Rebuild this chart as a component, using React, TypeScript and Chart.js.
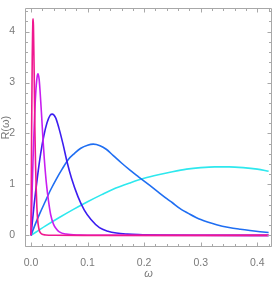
import React, { useEffect, useRef } from "react";
import { Chart, registerables } from "chart.js";

Chart.register(...registerables);

// ---- data ----
const pinkX = [0, 0.0006, 0.0011, 0.0017, 0.0022, 0.0028, 0.0033, 0.0037, 0.0043, 0.0048, 0.0056, 0.0063, 0.007, 0.0081, 0.0093, 0.0104, 0.0118, 0.0133, 0.0148, 0.0185, 0.026, 0.04, 0.1, 0.42];
const pinkY = [0, 1.1, 2.04, 2.85, 3.49, 3.95, 4.21, 4.25, 4.12, 3.78, 3.19, 2.55, 2.0, 1.36, 0.89, 0.55, 0.3, 0.17, 0.09, 0.03, 0.008, 0.001, 0, 0];

const magentaX = [0, 0.0019, 0.0037, 0.0056, 0.0074, 0.0093, 0.0112, 0.0124, 0.0143, 0.0161, 0.0186, 0.0211, 0.0236, 0.0273, 0.031, 0.0347, 0.0397, 0.0446, 0.05, 0.062, 0.087, 0.12, 0.42];
const magentaY = [0, 0.82, 1.52, 2.12, 2.6, 2.95, 3.14, 3.17, 3.07, 2.82, 2.38, 1.9, 1.49, 1.01, 0.67, 0.41, 0.22, 0.13, 0.07, 0.025, 0.006, 0.001, 0];

const violetX = [0, 0.0057, 0.0113, 0.017, 0.0226, 0.0283, 0.034, 0.0377, 0.0434, 0.049, 0.0566, 0.064, 0.0716, 0.083, 0.094, 0.106, 0.121, 0.136, 0.151, 0.17, 0.19, 0.23, 0.3, 0.42];
const violetY = [0, 0.62, 1.14, 1.6, 1.95, 2.21, 2.36, 2.38, 2.31, 2.12, 1.79, 1.43, 1.12, 0.76, 0.5, 0.31, 0.15, 0.08, 0.045, 0.025, 0.014, 0.005, 0.001, 0];

const blueX = [0, 0.008, 0.016, 0.025, 0.035, 0.045, 0.055, 0.066, 0.077, 0.088, 0.1, 0.11, 0.122, 0.133, 0.145, 0.16, 0.175, 0.19, 0.21, 0.225, 0.24, 0.25, 0.263, 0.28, 0.3, 0.328, 0.35, 0.37, 0.387, 0.405, 0.42];
const blueY = [0, 0.23, 0.44, 0.66, 0.9, 1.11, 1.3, 1.49, 1.61, 1.71, 1.77, 1.79, 1.76, 1.69, 1.57, 1.42, 1.28, 1.15, 0.98, 0.85, 0.72, 0.64, 0.53, 0.42, 0.31, 0.21, 0.155, 0.12, 0.095, 0.072, 0.056];

const cyanX = [0, 0.025, 0.05, 0.075, 0.1, 0.125, 0.15, 0.175, 0.2, 0.225, 0.25, 0.275, 0.3, 0.325, 0.35, 0.375, 0.4, 0.42];
const cyanY = [0, 0.18, 0.35, 0.51, 0.66, 0.8, 0.93, 1.03, 1.12, 1.19, 1.25, 1.3, 1.33, 1.345, 1.345, 1.33, 1.3, 1.26];

const xTickValues = [0, 0.1, 0.2, 0.3, 0.4];
const yTickValues = [0, 1, 2, 3, 4];
const xTitle = "ω";
const yTitle = "R(ω)";

const pts = (xs: number[], ys: number[]) => xs.map((x, i) => ({ x, y: ys[i] }));

const FONT = "'Liberation Sans', Arial, sans-serif";
const FRAME = "#a8a8a8";

const framePlugin = {
  id: "mmaFrame",
  afterDraw(chart: any) {
    const { ctx, chartArea: a, scales } = chart;
    const xs = scales.x;
    const ys = scales.y;
    const L = Math.round(a.left) + 0.5;
    const R = Math.round(a.right) - 0.5;
    const T = Math.round(a.top) + 0.5;
    const B = Math.round(a.bottom) - 0.5;
    ctx.save();
    ctx.strokeStyle = FRAME;
    ctx.lineWidth = 1;
    ctx.beginPath();
    ctx.rect(L, T, R - L, B - T);
    ctx.stroke();
    ctx.beginPath();
    for (let i = 0; i <= 21; i++) {
      const v = i * 0.02;
      const p = Math.round(xs.getPixelForValue(v)) + 0.5;
      const len = i % 5 === 0 ? 4 : 2.5;
      ctx.moveTo(p, B);
      ctx.lineTo(p, B - len);
      ctx.moveTo(p, T);
      ctx.lineTo(p, T + len);
    }
    for (let i = -1; i <= 22; i++) {
      const v = i * 0.2;
      const p = Math.round(ys.getPixelForValue(v)) + 0.5;
      if (p < T || p > B) continue;
      const len = i % 5 === 0 ? 4 : 2.5;
      ctx.moveTo(L, p);
      ctx.lineTo(L + len, p);
      ctx.moveTo(R, p);
      ctx.lineTo(R - len, p);
    }
    ctx.stroke();
    ctx.restore();
  },
};

export default function App() {
  const ref = useRef<HTMLCanvasElement | null>(null);

  useEffect(() => {
    if (!ref.current) return;
    const line = (label: string, xs: number[], ys: number[], color: string, order: number) => ({
      label,
      data: pts(xs, ys),
      borderColor: color,
      backgroundColor: color,
      borderWidth: 1.6,
      pointRadius: 0,
      fill: false,
      cubicInterpolationMode: "monotone" as const,
      order,
    });
    const chart = new Chart(ref.current, {
      type: "line",
      data: {
        datasets: [
          line("c1", cyanX, cyanY, "#2ee8ee", 5),
          line("c2", blueX, blueY, "#1f6ef2", 4),
          line("c3", violetX, violetY, "#3c1ef0", 3),
          line("c4", magentaX, magentaY, "#c81ef0", 2),
          line("c5", pinkX, pinkY, "#f0188f", 1),
        ],
      },
      options: {
        animation: false,
        responsive: false,
        devicePixelRatio: 1,
        layout: { padding: { top: 1, right: 2, bottom: 0, left: 0 } },
        plugins: { legend: { display: false }, tooltip: { enabled: false } },
        scales: {
          x: {
            type: "linear",
            min: -0.010605,
            max: 0.42598,
            grid: { display: false },
            border: { display: false },
            afterBuildTicks: (s: any) => {
              s.ticks = xTickValues.map((v) => ({ value: v }));
            },
            afterFit: (s: any) => {
              s.height = 34;
            },
            ticks: {
              color: "#7a7a7a",
              padding: 2,
              maxRotation: 0,
              autoSkip: false,
              font: { family: FONT, size: 10.5 },
              callback: (v: any) => Number(v).toFixed(1),
            },
            title: {
              display: true,
              text: xTitle,
              color: "#7a7a7a",
              font: { family: FONT, size: 11, style: "italic" },
              padding: { top: 0, bottom: 0 },
            },
          },
          y: {
            type: "linear",
            min: -0.22857,
            max: 4.4571,
            grid: { display: false },
            border: { display: false },
            afterBuildTicks: (s: any) => {
              s.ticks = yTickValues.map((v) => ({ value: v }));
            },
            afterFit: (s: any) => {
              s.width = 25;
            },
            ticks: {
              color: "#7a7a7a",
              padding: 2,
              autoSkip: false,
              font: { family: FONT, size: 10.5 },
              callback: (v: any) => String(v),
            },
            title: {
              display: true,
              text: yTitle,
              color: "#7a7a7a",
              font: { family: FONT, size: 11, lineHeight: 1 },
              padding: { top: 0, bottom: 0 },
            },
          },
        },
      },
      plugins: [framePlugin],
    });
    return () => chart.destroy();
  }, []);

  return (
    <div style={{ position: "fixed", left: 0, top: 0, width: 274, height: 281, background: "#fff" }}>
      <canvas ref={ref} width={274} height={281} style={{ width: 274, height: 281, display: "block" }} />
    </div>
  );
}
